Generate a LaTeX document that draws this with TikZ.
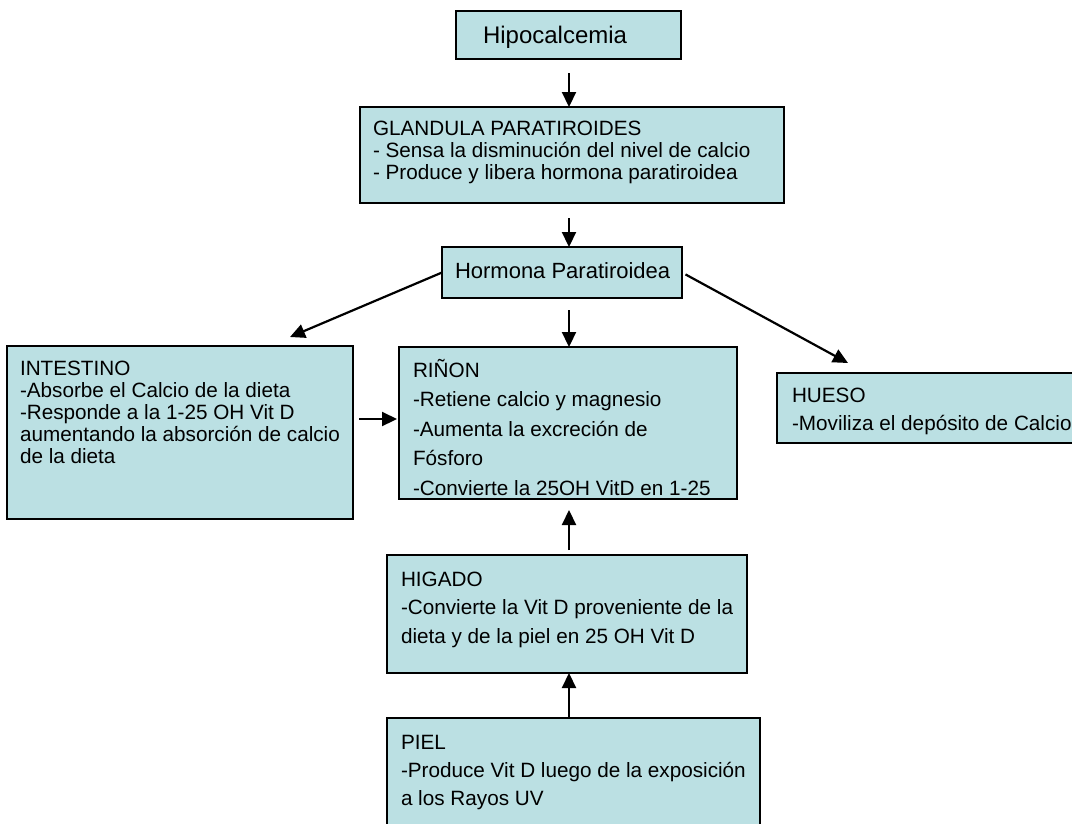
\documentclass[tikz,border=0pt]{standalone}
\usepackage{fontspec}
\setmainfont{Liberation Sans}
\usetikzlibrary{arrows.meta}
\definecolor{boxfill}{RGB}{187,224,227}
\newcommand\boxlines[2]{\vtop{\baselineskip=#1\relax\lineskiplimit=-100pt\relax\lineskip=0pt\relax #2}}
\begin{document}
\begin{tikzpicture}[x=1pt,y=-1pt,
 panel/.style={draw=black, line width=2pt, fill=boxfill, inner sep=0pt, outer sep=0pt, anchor=north west},
 txt/.style={inner sep=0pt, outer sep=0pt, anchor=base west, font=\fontsize{20.7}{24}\selectfont},
 arr/.style={line width=2.2pt, -{Triangle[length=15pt,width=14pt]}}]
\fill[white] (0,0) rectangle (1072,823);
\useasboundingbox (0,0) rectangle (1072,823);

% boxes
\node[panel, minimum width=225pt, minimum height=48pt] (hipo) at (456,11) {};
\node[panel, minimum width=424pt, minimum height=96pt] (gland) at (360,107) {};
\node[panel, minimum width=240pt, minimum height=51pt] (horm) at (442,247) {};
\node[panel, minimum width=346pt, minimum height=173pt] (intest) at (7,346) {};
\node[panel, minimum width=338pt, minimum height=152pt] (rinon) at (399,347) {};
\node[panel, minimum width=305pt, minimum height=70pt] (hueso) at (777,373) {};
\node[panel, minimum width=360pt, minimum height=118pt] (higado) at (387,555) {};
\node[panel, minimum width=373pt, minimum height=115pt] (piel) at (387,718) {};

% texts
\node[txt, font=\fontsize{24}{28}\selectfont] (hipoT) at (483,43) {Hipocalcemia};
\node[txt] (glandT) at (373,135) {\boxlines{22pt}{\hbox{GLANDULA PARATIROIDES}\hbox{- Sensa la disminución del nivel de calcio}\hbox{- Produce y libera hormona paratiroidea}}};
\node[txt, font=\fontsize{22}{26}\selectfont] (hormT) at (455,278) {Hormona Paratiroidea};
\node[txt] (intT) at (20,375) {\boxlines{22.2pt}{\hbox{INTESTINO}\hbox{-Absorbe el Calcio de la dieta}\hbox{-Responde a la 1-25 OH Vit D}\hbox{aumentando la absorción de calcio}\hbox{de la dieta}}};
\node[txt] (rinonT) at (413,377) {\boxlines{29.5pt}{\hbox{RIÑON}\hbox{-Retiene calcio y magnesio}\hbox{-Aumenta la excreción de}\hbox{Fósforo}\hbox{-Convierte la 25OH VitD en 1-25}}};
\node[txt] (huesoT) at (792,402) {\boxlines{28pt}{\hbox{HUESO}\hbox{-Moviliza el depósito de Calcio}}};
\node[txt] (higadoT) at (401,586) {\boxlines{28.5pt}{\hbox{HIGADO}\hbox{-Convierte la Vit D proveniente de la}\hbox{dieta y de la piel en 25 OH Vit D}}};
\node[txt] (pielT) at (401,749) {\boxlines{28pt}{\hbox{PIEL}\hbox{-Produce Vit D luego de la exposición}\hbox{a los Rayos UV}}};

% helper coordinates
\coordinate (cx) at (569,0);
\coordinate (iy) at (0,419);
\coordinate (intIn) at (290,337);
\coordinate (huesoIn) at (848,363);

% connectors
\draw[arr, shorten <=14pt] (cx |- hipo.south) -- (cx |- gland.north);
\draw[arr, shorten <=15pt] (cx |- gland.south) -- (cx |- horm.north);
\draw[arr, shorten <=12pt] (cx |- horm.south) -- (cx |- rinon.north);
\draw[arr, shorten <=5pt, shorten >=11pt] (cx |- higado.north) -- (cx |- rinon.south);
\draw[arr] (cx |- piel.north) -- (cx |- higado.south);
\draw[arr, shorten <=6pt, shorten >=2pt] (intest.east |- iy) -- (rinon.west |- iy);
\draw[arr] (horm.west) -- (intIn);
\draw[arr, shorten <=4pt] (horm.east) -- (huesoIn);
\end{tikzpicture}
\end{document}
